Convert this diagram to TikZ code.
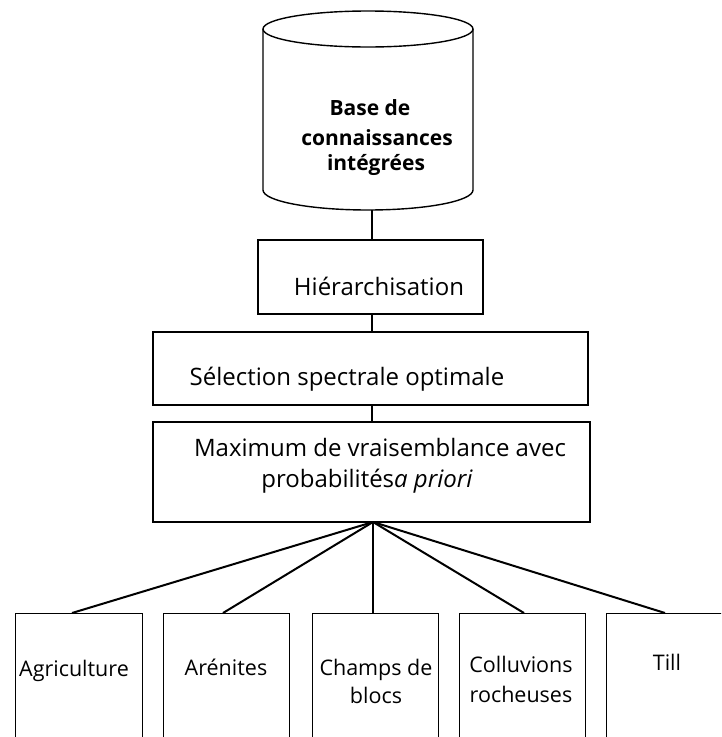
\documentclass[tikz,border=0pt]{standalone}
\usepackage{fontspec}
\setmainfont{Open Sans}
\begin{document}
\begin{tikzpicture}[x=1pt,y=-1pt,
  box/.style={draw, line width=1.3pt, rectangle, inner sep=0pt},
  txt/.style={font=\fontsize{24}{28}\selectfont, inner sep=0pt, anchor=base},
  stxt/.style={font=\fontsize{21.5}{26}\selectfont, inner sep=0pt, anchor=base},
  btxt/.style={font=\fontsize{21}{25}\selectfont\bfseries, inner sep=0pt, anchor=base},
  link/.style={line width=1.2pt},
  fan/.style={line width=2pt},
  ]
\clip (0,0) rectangle (721,737);
\fill[white] (0,0) rectangle (721,737);

% knowledge base cylinder
\draw[line width=1.4pt] (263,29) -- (263,190)
  arc[start angle=180, end angle=360, x radius=105pt, y radius=20pt]
  -- (473,29);
\draw[line width=1.4pt] (368,29) ellipse [x radius=105pt, y radius=18pt];
\coordinate (basebottom) at (372,210);
\node[btxt] (base1) at (370,115) {Base de};
\node[btxt] (base2) at (377,145) {connaissances};
\node[btxt] (base3) at (376,170) {intégrées};

% processing chain
\node[box, minimum width=225pt, minimum height=74pt] (hier) at (370.5,277) {};
\node[txt] (hiert) at (379,295) {Hiérarchisation};

\node[box, minimum width=435pt, minimum height=73pt] (sel) at (370.5,368.5) {};
\node[txt] (selt) at (347,385) {Sélection spectrale optimale};

\node[box, minimum width=437pt, minimum height=100pt] (maxv) at (371.5,472) {};
\node[txt] (maxt1) at (380,456) {Maximum de vraisemblance avec};
\node[txt] (maxt2) at (367,487) {probabilités\textit{a priori}};

\draw[link] (basebottom) -- (hier.north -| basebottom);
\draw[link] (hier.south -| basebottom) -- (sel.north -| basebottom);
\draw[link] (sel.south -| basebottom) -- (maxv.north -| basebottom);

% classes
\node[box, anchor=north west, minimum width=127pt, minimum height=140pt] (agri) at (15,613) {};
\node[box, anchor=north west, minimum width=126pt, minimum height=140pt] (aren) at (163,613) {};
\node[box, anchor=north west, minimum width=126pt, minimum height=140pt] (champ) at (312,613) {};
\node[box, anchor=north west, minimum width=126pt, minimum height=140pt] (coll) at (459,613) {};
\node[box, anchor=north west, minimum width=140pt, minimum height=140pt] (till) at (606,613) {};

\node[stxt] (agrit) at (74,676) {Agriculture};
\node[stxt] (arent) at (226,675) {Arénites};
\node[stxt] (champt1) at (376,675) {Champs de};
\node[stxt] (champt2) at (376,703) {blocs};
\node[stxt] (collt1) at (521,672) {Colluvions};
\node[stxt] (collt2) at (521,702) {rocheuses};
\node[stxt] (tillt) at (667,670) {Till};

\coordinate (apex) at (373,522);
\draw[fan] (apex) -- (agri.north west -| 72,0);
\draw[fan] (apex) -- (aren.north west -| 223,0);
\draw[fan] (apex) -- (champ.north west -| 373,0);
\draw[fan] (apex) -- (coll.north west -| 524,0);
\draw[fan] (apex) -- (till.north west -| 665,0);
\end{tikzpicture}
\end{document}
